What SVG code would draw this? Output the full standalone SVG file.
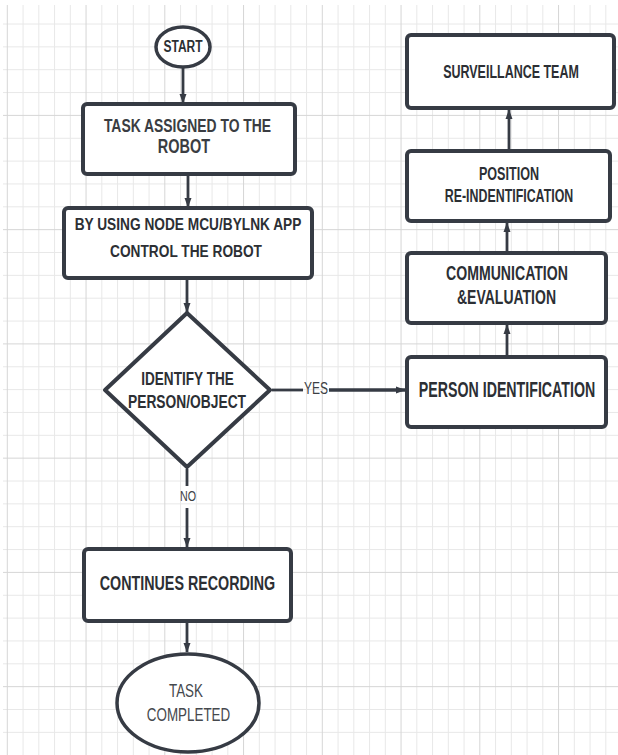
<svg xmlns="http://www.w3.org/2000/svg" width="618" height="755" viewBox="0 0 618 755">
  <defs>
    <style>
      .grid { stroke: #e8e8e8; stroke-width: 1; }
      .grid2 { stroke: #d6d6d6; stroke-width: 1; }
      .box { fill: #ffffff; stroke: #363b44; stroke-width: 4; }
      .conn { fill: none; stroke: #363b44; stroke-width: 2.8; }
      .t { font-family: "Liberation Sans", Arial, sans-serif; font-weight: bold; fill: #2c2f34; text-anchor: middle; }
      .lbl { font-family: "Liberation Sans", Arial, sans-serif; font-weight: normal; fill: #3c3f44; text-anchor: middle; }
    </style>
    <marker id="arr" markerUnits="userSpaceOnUse" markerWidth="10" markerHeight="14" refX="13" refY="5" viewBox="0 0 14 10" orient="auto">
      <path d="M0,0 L14,5 L0,10 Z" fill="#363b44"/>
    </marker>
  </defs>
  <rect x="0" y="0" width="618" height="755" fill="#ffffff"/>
  <g id="grid">
    <g class="grid">
      <line x1="23.05" y1="5" x2="23.05" y2="755"/><line x1="38.8" y1="5" x2="38.8" y2="755"/><line x1="54.55" y1="5" x2="54.55" y2="755"/><line x1="70.3" y1="5" x2="70.3" y2="755"/>
      <line x1="101.8" y1="5" x2="101.8" y2="755"/><line x1="117.55" y1="5" x2="117.55" y2="755"/><line x1="133.3" y1="5" x2="133.3" y2="755"/><line x1="149.05" y1="5" x2="149.05" y2="755"/>
      <line x1="180.55" y1="5" x2="180.55" y2="755"/><line x1="196.3" y1="5" x2="196.3" y2="755"/><line x1="212.05" y1="5" x2="212.05" y2="755"/><line x1="227.8" y1="5" x2="227.8" y2="755"/>
      <line x1="259.3" y1="5" x2="259.3" y2="755"/><line x1="275.05" y1="5" x2="275.05" y2="755"/><line x1="290.8" y1="5" x2="290.8" y2="755"/><line x1="306.55" y1="5" x2="306.55" y2="755"/>
      <line x1="338.05" y1="5" x2="338.05" y2="755"/><line x1="353.8" y1="5" x2="353.8" y2="755"/><line x1="369.55" y1="5" x2="369.55" y2="755"/><line x1="385.3" y1="5" x2="385.3" y2="755"/>
      <line x1="416.8" y1="5" x2="416.8" y2="755"/><line x1="432.55" y1="5" x2="432.55" y2="755"/><line x1="448.3" y1="5" x2="448.3" y2="755"/><line x1="464.05" y1="5" x2="464.05" y2="755"/>
      <line x1="495.55" y1="5" x2="495.55" y2="755"/><line x1="511.3" y1="5" x2="511.3" y2="755"/><line x1="527.05" y1="5" x2="527.05" y2="755"/><line x1="542.8" y1="5" x2="542.8" y2="755"/>
      <line x1="574.3" y1="5" x2="574.3" y2="755"/><line x1="590.05" y1="5" x2="590.05" y2="755"/><line x1="605.8" y1="5" x2="605.8" y2="755"/>
      <line x1="3" y1="24" x2="618" y2="24"/><line x1="3" y1="46.85" x2="618" y2="46.85"/><line x1="3" y1="69.7" x2="618" y2="69.7"/><line x1="3" y1="92.55" x2="618" y2="92.55"/>
      <line x1="3" y1="138.25" x2="618" y2="138.25"/><line x1="3" y1="161.1" x2="618" y2="161.1"/><line x1="3" y1="183.95" x2="618" y2="183.95"/><line x1="3" y1="206.8" x2="618" y2="206.8"/>
      <line x1="3" y1="252.5" x2="618" y2="252.5"/><line x1="3" y1="275.35" x2="618" y2="275.35"/><line x1="3" y1="298.2" x2="618" y2="298.2"/><line x1="3" y1="321.05" x2="618" y2="321.05"/>
      <line x1="3" y1="366.75" x2="618" y2="366.75"/><line x1="3" y1="389.6" x2="618" y2="389.6"/><line x1="3" y1="412.45" x2="618" y2="412.45"/><line x1="3" y1="435.3" x2="618" y2="435.3"/>
      <line x1="3" y1="481" x2="618" y2="481"/><line x1="3" y1="503.85" x2="618" y2="503.85"/><line x1="3" y1="526.7" x2="618" y2="526.7"/><line x1="3" y1="549.55" x2="618" y2="549.55"/>
      <line x1="3" y1="595.25" x2="618" y2="595.25"/><line x1="3" y1="618.1" x2="618" y2="618.1"/><line x1="3" y1="640.95" x2="618" y2="640.95"/><line x1="3" y1="663.8" x2="618" y2="663.8"/>
      <line x1="3" y1="709.5" x2="618" y2="709.5"/><line x1="3" y1="732.35" x2="618" y2="732.35"/>
    </g>
    <g class="grid2">
      <line x1="7.3" y1="5" x2="7.3" y2="755"/><line x1="86.05" y1="5" x2="86.05" y2="755"/><line x1="164.8" y1="5" x2="164.8" y2="755"/><line x1="243.55" y1="5" x2="243.55" y2="755"/>
      <line x1="322.3" y1="5" x2="322.3" y2="755"/><line x1="401.05" y1="5" x2="401.05" y2="755"/><line x1="479.8" y1="5" x2="479.8" y2="755"/><line x1="558.55" y1="5" x2="558.55" y2="755"/>
      <line x1="3" y1="115.4" x2="618" y2="115.4"/><line x1="3" y1="229.65" x2="618" y2="229.65"/><line x1="3" y1="343.9" x2="618" y2="343.9"/><line x1="3" y1="458.15" x2="618" y2="458.15"/>
      <line x1="3" y1="572.4" x2="618" y2="572.4"/><line x1="3" y1="686.65" x2="618" y2="686.65"/>
    </g>
  </g>
  <g id="connectors">
    <line class="conn" x1="183" y1="67" x2="183" y2="103" marker-end="url(#arr)"/>
    <line class="conn" x1="188" y1="176" x2="188" y2="207" marker-end="url(#arr)"/>
    <line class="conn" x1="187" y1="280" x2="187" y2="312" marker-end="url(#arr)"/>
    <line class="conn" x1="187" y1="469" x2="187" y2="486"/>
    <line class="conn" x1="187" y1="508" x2="187" y2="547" marker-end="url(#arr)"/>
    <line class="conn" x1="187" y1="623" x2="187" y2="652" marker-end="url(#arr)"/>
    <line class="conn" x1="272" y1="390" x2="303" y2="390"/>
    <line class="conn" x1="329" y1="390" x2="405" y2="390" marker-end="url(#arr)" style="stroke-width:3.6"/>
    <line class="conn" x1="507" y1="355" x2="507" y2="325" marker-end="url(#arr)"/>
    <line class="conn" x1="507" y1="251" x2="507" y2="223" marker-end="url(#arr)"/>
    <line class="conn" x1="509" y1="149" x2="509" y2="110" marker-end="url(#arr)"/>
    <text class="lbl" transform="translate(316,394) scale(1,1.36)" font-size="12">YES</text>
    <text class="lbl" transform="translate(188,501) scale(1,1.3)" font-size="10.7">NO</text>
  </g>
  <g id="start">
    <ellipse class="box" cx="183" cy="47" rx="27" ry="20" style="stroke-width:3.5"/>
    <text class="t" transform="translate(183,52) scale(1,1.3)" font-size="12">START</text>
  </g>
  <g id="task-assigned">
    <rect class="box" x="83" y="104" width="212" height="70" rx="4"/>
    <text class="t" transform="translate(187.5,131.5) scale(1,1.35)" font-size="13.9" style="fill:#3a3d42">TASK ASSIGNED TO THE</text>
    <text class="t" transform="translate(184,152.5) scale(1,1.35)" font-size="14.5" style="fill:#3a3d42">ROBOT</text>
  </g>
  <g id="control">
    <rect class="box" x="64" y="208" width="248" height="70" rx="4"/>
    <text class="t" transform="translate(188,230) scale(1,1.25)" font-size="13.7">BY USING NODE MCU/BYLNK APP</text>
    <text class="t" transform="translate(186,256.5) scale(1,1.25)" font-size="13.7">CONTROL THE ROBOT</text>
  </g>
  <g id="decision">
    <polygon class="box" points="187,313 270,390 187,467 105,390" style="stroke-linejoin:round"/>
    <text class="t" transform="translate(187.5,385) scale(1,1.38)" font-size="13.6">IDENTIFY THE</text>
    <text class="t" transform="translate(187,407.5) scale(1,1.38)" font-size="13.8">PERSON/OBJECT</text>
  </g>
  <g id="recording">
    <rect class="box" x="84" y="549" width="207" height="72" rx="4"/>
    <text class="t" transform="translate(187.5,590) scale(1,1.37)" font-size="14.3">CONTINUES RECORDING</text>
  </g>
  <g id="completed">
    <ellipse class="box" cx="188" cy="703" rx="71" ry="49" style="stroke-width:3.5"/>
    <text class="lbl" transform="translate(186,697) scale(1,1.35)" font-size="13.4" style="fill:#45484d">TASK</text>
    <text class="lbl" transform="translate(188.5,720.5) scale(1,1.35)" font-size="13.4" style="fill:#45484d">COMPLETED</text>
  </g>
  <g id="person-identification">
    <rect class="box" x="407" y="357" width="199" height="70" rx="4"/>
    <text class="t" transform="translate(507,396.5) scale(1,1.5)" font-size="14.2">PERSON IDENTIFICATION</text>
  </g>
  <g id="communication">
    <rect class="box" x="407" y="253" width="199" height="70" rx="4"/>
    <text class="t" transform="translate(507,279.5) scale(1,1.42)" font-size="14.1">COMMUNICATION</text>
    <text class="t" transform="translate(506.5,303.5) scale(1,1.42)" font-size="14">&amp;EVALUATION</text>
  </g>
  <g id="position">
    <rect class="box" x="407" y="151" width="203" height="70" rx="4"/>
    <text class="t" transform="translate(509,180) scale(1,1.45)" font-size="12.6">POSITION</text>
    <text class="t" transform="translate(509,201.5) scale(1,1.45)" font-size="12.4">RE-INDENTIFICATION</text>
  </g>
  <g id="surveillance">
    <rect class="box" x="407" y="35" width="207" height="73" rx="4"/>
    <text class="t" transform="translate(511,77.5) scale(1,1.45)" font-size="12.5">SURVEILLANCE TEAM</text>
  </g>
</svg>
